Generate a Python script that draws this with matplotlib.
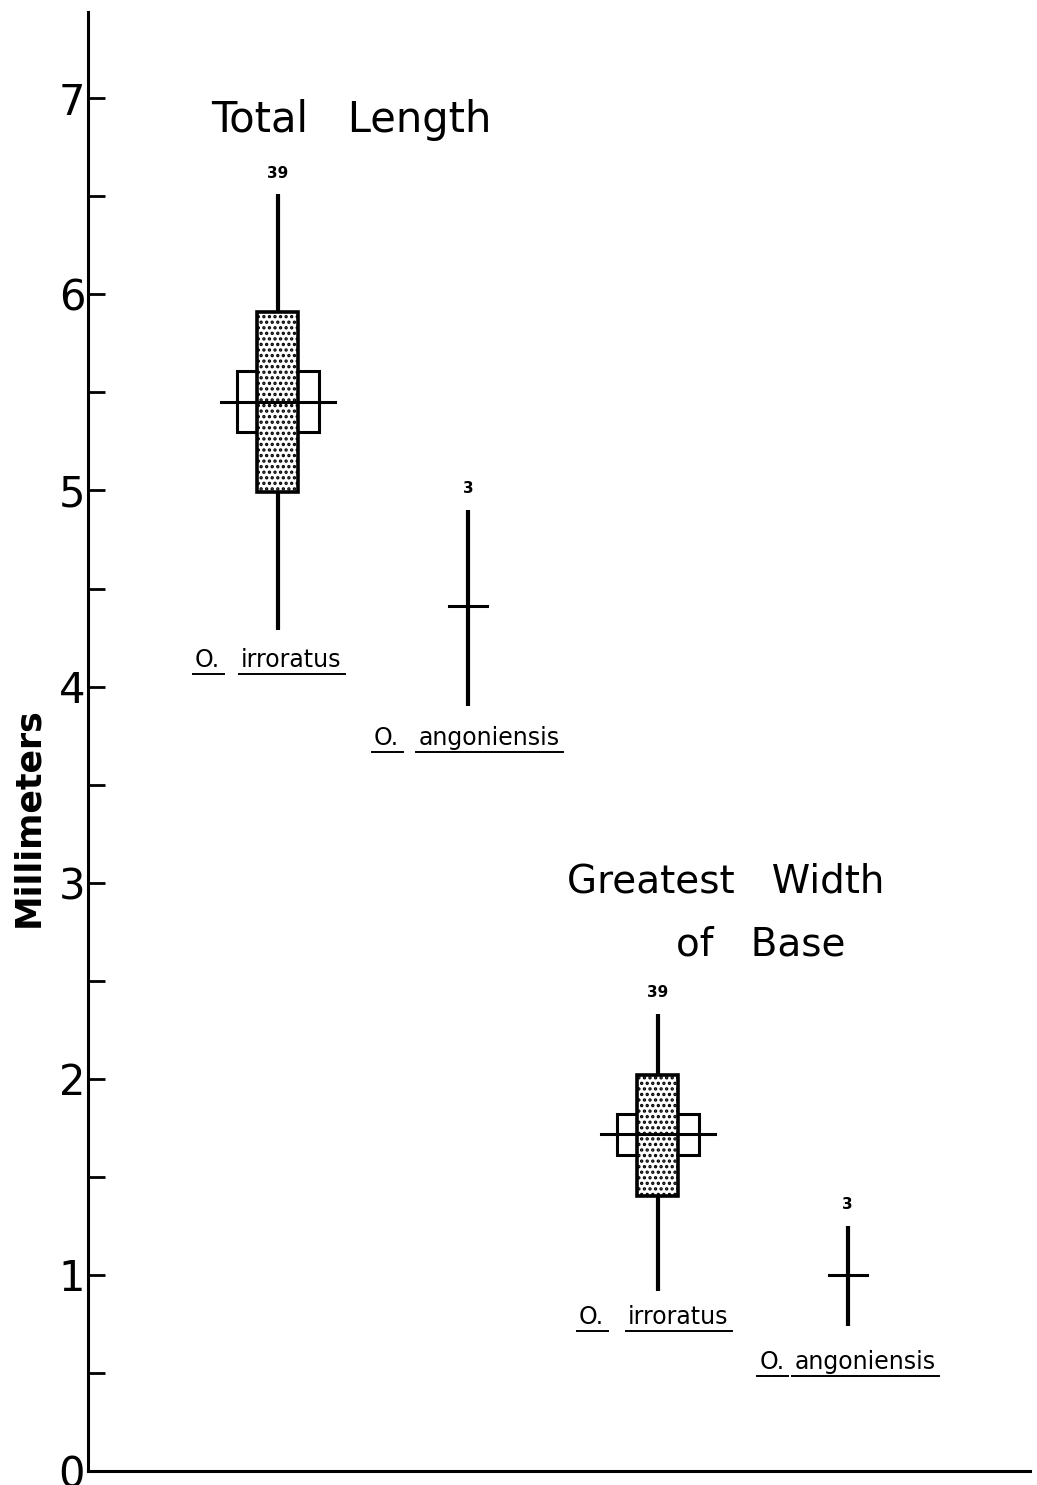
import numpy as np
import matplotlib.pyplot as plt
import matplotlib.patches as mpatches

groups = ["Total Length", "Total Length", "Greatest Width of Base", "Greatest Width of Base"]
species = ["irroratus", "angoniensis", "irroratus", "angoniensis"]
n = [39, 3, 39, 3]
range_min = [4.29, 3.90, 0.92, 0.74]
range_max = [6.51, 4.90, 2.33, 1.25]
mean = [5.45, 4.41, 1.72, 1.00]
sd_low = [4.99, None, 1.40, None]
sd_high = [5.91, None, 2.02, None]
se_low = [5.30, None, 1.61, None]
se_high = [5.61, None, 1.82, None]
label_y = [4.10, 3.70, 0.75, 0.52]

pos = [1, 2, 3, 4]

plt.rcParams["hatch.linewidth"] = 1.6
fig = plt.figure(figsize=(10.37, 14.85), dpi=100)
ax = fig.add_axes([88 / 1037, 14 / 1485, 942 / 1037, 1459 / 1485])
ax.set_xlim(0, 4.96)
ax.set_ylim(0, 7.44)

for i, x in enumerate(pos):
    ax.plot([x, x], [range_min[i], range_max[i]], color="black", lw=3, solid_capstyle="butt", zorder=2)
    if sd_low[i] is not None:
        # two standard errors (open box, drawn behind)
        ax.add_patch(mpatches.Rectangle((x - 0.215, se_low[i]), 0.43, se_high[i] - se_low[i],
                                        facecolor="white", edgecolor="black", lw=2.2, zorder=3))
        # one standard deviation (stippled box)
        ax.add_patch(mpatches.Rectangle((x - 0.108, sd_low[i]), 0.216, sd_high[i] - sd_low[i],
                                        facecolor="white", edgecolor="black", lw=2.6,
                                        hatch="...", zorder=4))
        ax.plot([x - 0.3, x + 0.3], [mean[i], mean[i]], color="black", lw=2.2, zorder=5)
    else:
        ax.plot([x - 0.1, x + 0.1], [mean[i], mean[i]], color="black", lw=2.2, zorder=5)
    ax.text(x, range_max[i] + 0.07, str(n[i]), ha="center", va="bottom", fontsize=11, fontweight="bold")

# species labels with underlines
fig.canvas.draw()
renderer = fig.canvas.get_renderer()
offsets = [(-0.37, 0.07), (-0.43, 0.11), (-0.35, 0.105), (-0.40, 0.09)]
for i, x in enumerate(pos):
    for txt, dx in zip(["O.", species[i]], offsets[i]):
        t = ax.text(x + dx, label_y[i], txt, ha="center", va="baseline", fontsize=17)
        bb = t.get_window_extent(renderer).transformed(ax.transData.inverted())
        uy = label_y[i] - 0.035
        ax.plot([bb.x0 - 0.01, bb.x1 + 0.02], [uy, uy], color="black", lw=1.4, clip_on=False)

ax.text(1.384, 6.83, "Total   Length", ha="center", va="baseline", fontsize=30)
ax.text(3.36, 2.95, "Greatest   Width", ha="center", va="baseline", fontsize=28)
ax.text(3.54, 2.63, "of   Base", ha="center", va="baseline", fontsize=28)

ax.spines["top"].set_visible(False)
ax.spines["right"].set_visible(False)
ax.spines["left"].set_linewidth(2.2)
ax.spines["bottom"].set_linewidth(2.2)
ticks = np.arange(0, 7.01, 0.5)
ax.set_yticks(ticks)
ax.set_yticklabels([str(int(v)) if v == int(v) else "" for v in ticks])
ax.tick_params(axis="y", direction="in", length=12, width=2, labelsize=30, pad=2)
ax.set_xticks([])
ax.set_ylabel("Millimeters", fontsize=25, fontweight="bold")
ax.yaxis.set_label_coords(-0.045, 0.448)

fig.savefig("out.png", dpi=100)
